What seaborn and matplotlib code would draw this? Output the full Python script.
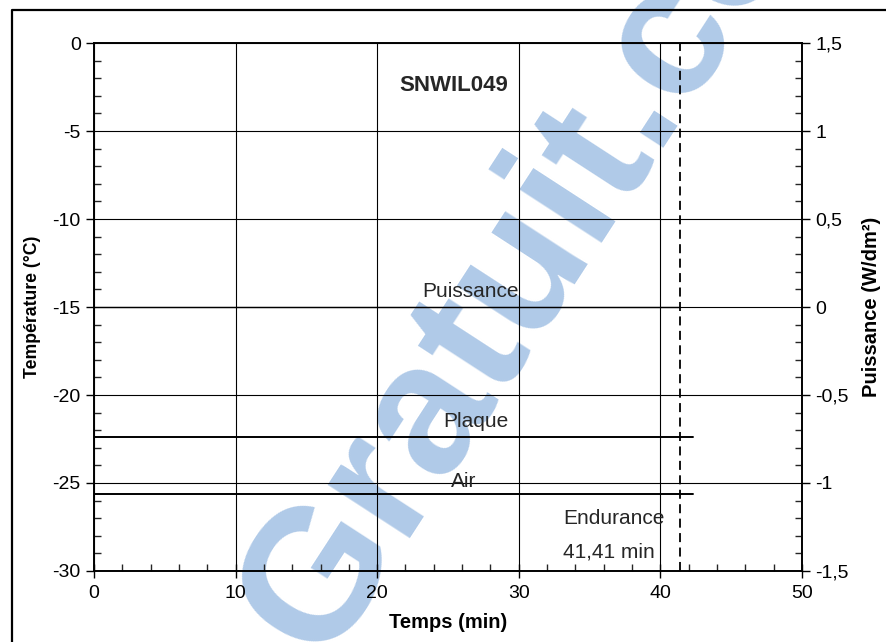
import numpy as np
import pandas as pd
import matplotlib
matplotlib.use("Agg")
import matplotlib.pyplot as plt
from matplotlib.lines import Line2D
from matplotlib.ticker import MultipleLocator, FuncFormatter
import seaborn as sns

# data
temps_min = [0.0, 42.3]
plaque_c = [-22.4, -22.4]
air_c = [-25.6, -25.6]
puiss_temps = [0.0, 41.41]
puissance_w = [0.0, 0.0]
endurance_min = 41.41
essai = "SNWIL049"

sns.set_theme(style="white")
plt.rcParams['font.family'] = ['Liberation Sans', 'DejaVu Sans']
plt.rcParams['axes.unicode_minus'] = False

fig = plt.figure(figsize=(8.87, 6.42), dpi=100)
ax = fig.add_axes([0.106, 0.1106, 0.798, 0.8224])
ax2 = ax.twinx()

# scanned page frame (left and top edges visible)
fig.lines.append(Line2D([0.0135, 0.0135, 1.0], [0.0, 0.984, 0.984], transform=fig.transFigure,
                        color='black', lw=1.6))

df = pd.DataFrame({'t': temps_min, 'plaque': plaque_c, 'air': air_c})
sns.lineplot(data=df, x='t', y='plaque', ax=ax, color='black', lw=1.4, zorder=4)
sns.lineplot(data=df, x='t', y='air', ax=ax, color='black', lw=1.4, zorder=4)
dfp = pd.DataFrame({'t': puiss_temps, 'p': puissance_w})
sns.lineplot(data=dfp, x='t', y='p', ax=ax2, color='black', lw=1.0, zorder=4)
ax.axvline(endurance_min, color='black', lw=1.3, ls=(0, (5, 3)), zorder=4)

ax.set_xlim(0, 50)
ax.set_ylim(-30, 0)
ax2.set_ylim(-1.5, 1.5)

ax.xaxis.set_major_locator(MultipleLocator(10))
ax.xaxis.set_minor_locator(MultipleLocator(2))
ax.yaxis.set_major_locator(MultipleLocator(5))
ax.yaxis.set_minor_locator(MultipleLocator(1))
ax2.yaxis.set_major_locator(MultipleLocator(0.5))
ax2.yaxis.set_minor_locator(MultipleLocator(0.1))

comma = FuncFormatter(lambda v, p: ('%g' % v).replace('.', ','))
ax2.yaxis.set_major_formatter(comma)

ax.grid(True, which='major', color='black', lw=0.8)
ax2.grid(False)
for a in (ax, ax2):
    for s in a.spines.values():
        s.set_color('black')
        s.set_linewidth(1.2)

ax.tick_params(axis='x', which='major', direction='inout', length=10, width=1, labelsize=14, colors='black', bottom=True, pad=5)
ax.tick_params(axis='x', which='minor', direction='in', length=5, width=1, bottom=True)
ax.tick_params(axis='y', which='major', direction='out', length=6, width=1, labelsize=14, colors='black', left=True)
ax.tick_params(axis='y', which='minor', direction='in', length=5, width=1, left=True)
ax2.tick_params(axis='y', which='major', direction='out', length=6, width=1, labelsize=14, colors='black', right=True)
ax2.tick_params(axis='y', which='minor', direction='in', length=5, width=1, right=True)

ax.set_xlabel('Temps (min)', fontsize=14.5, fontweight='bold', color='black', labelpad=8)
ax.set_ylabel('Température (°C)', fontsize=12.7, fontweight='bold', color='black', labelpad=8)
ax2.set_ylabel('Puissance (W/dm²)', fontsize=14.5, fontweight='bold', color='black', labelpad=10)

ax.text(25.4, -2.4, essai, fontsize=16, fontweight='bold', ha='center', va='center', zorder=6)
ax.text(26.6, -14.1, 'Puissance', fontsize=15, ha='center', va='center', zorder=6)
ax.text(27.0, -21.5, 'Plaque', fontsize=15, ha='center', va='center', zorder=6)
ax.text(26.1, -24.9, 'Air', fontsize=15, ha='center', va='center', zorder=6)
ax.text(36.7, -27.0, 'Endurance', fontsize=15, ha='center', va='center', zorder=6)
ax.text(36.4, -28.9, '41,41 min', fontsize=15, ha='center', va='center', zorder=6)

# watermark of the scanned page, under the grid
ax.text(0.638, 0.69, 'Gratuit.com', transform=fig.transFigure, fontsize=134, fontweight='bold',
        color='#b0cae8', rotation=57, ha='center', va='center', rotation_mode='anchor',
        zorder=0.3, clip_on=False)

fig.savefig('out.png', dpi=100)
